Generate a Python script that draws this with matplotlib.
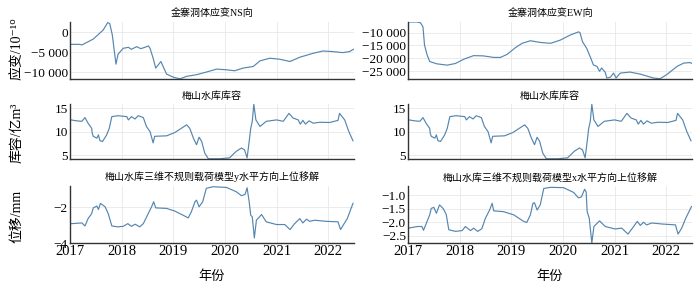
import numpy as np
import matplotlib
matplotlib.use('Agg')
import matplotlib.pyplot as plt
from matplotlib.ticker import FuncFormatter

plt.rcParams['font.family'] = ['Liberation Serif', 'Noto Sans CJK SC', 'DejaVu Sans']
plt.rcParams['axes.unicode_minus'] = True

# strain NS (10^-10)
ns_t = [2017.02, 2017.19, 2017.23, 2017.45, 2017.64, 2017.73, 2017.77, 2017.82, 2017.89, 2017.93,
        2018.03, 2018.13, 2018.19, 2018.29, 2018.37, 2018.45, 2018.52, 2018.55, 2018.61, 2018.66,
        2018.76, 2018.87, 2019.00, 2019.13, 2019.26, 2019.45, 2019.64, 2019.84, 2020.03, 2020.19,
        2020.35, 2020.55, 2020.68, 2020.87, 2021.06, 2021.26, 2021.45, 2021.71, 2021.90, 2022.09,
        2022.28, 2022.41, 2022.49]
ns_v = [-3000, -3000, -3150, -1670, 580, 2500, 2250, -670, -8000, -5500,
        -4000, -3750, -4250, -3580, -4080, -3750, -3400, -4000, -6500, -9000,
        -7330, -10500, -11300, -11700, -11080, -10660, -10000, -9250, -9420, -9670,
        -9000, -8580, -7160, -6500, -6750, -7330, -6250, -5250, -4670, -4830,
        -5080, -4830, -4250]

# strain EW (10^-10)
ew_t = [2017.01, 2017.17, 2017.24, 2017.29, 2017.32, 2017.37, 2017.42, 2017.56, 2017.76, 2017.92,
        2018.08, 2018.27, 2018.46, 2018.66, 2018.79, 2018.92, 2019.08, 2019.21, 2019.37, 2019.56,
        2019.76, 2019.95, 2020.14, 2020.30, 2020.33, 2020.38, 2020.46, 2020.54, 2020.59, 2020.66,
        2020.71, 2020.75, 2020.82, 2020.85, 2020.92, 2020.98, 2021.03, 2021.11, 2021.30, 2021.50,
        2021.75, 2021.88, 2022.01, 2022.21, 2022.34, 2022.46, 2022.50]
ew_v = [-5900, -5900, -6150, -7800, -14900, -18700, -21300, -22200, -22700, -22050,
        -20400, -19000, -19100, -19700, -19700, -18500, -15900, -14200, -13200, -13850,
        -14200, -12950, -11000, -9750, -10000, -13600, -16150, -20000, -22600, -23200,
        -25100, -23800, -25500, -27700, -27400, -25800, -27700, -25800, -25400, -26200,
        -27700, -28000, -26400, -23200, -21900, -21700, -22050]

# reservoir storage (1e8 m^3)
st_t = [2017.02, 2017.13, 2017.23, 2017.29, 2017.35, 2017.42, 2017.43, 2017.45, 2017.52, 2017.55,
        2017.58, 2017.63, 2017.71, 2017.76, 2017.81, 2017.93, 2018.10, 2018.13, 2018.19, 2018.26,
        2018.32, 2018.42, 2018.48, 2018.55, 2018.61, 2018.64, 2018.87, 2019.03, 2019.21, 2019.26,
        2019.32, 2019.39, 2019.45, 2019.50, 2019.55, 2019.61, 2019.68, 2019.90, 2020.09, 2020.22,
        2020.32, 2020.38, 2020.43, 2020.47, 2020.50, 2020.53, 2020.56, 2020.60, 2020.68, 2020.80,
        2021.00, 2021.13, 2021.24, 2021.32, 2021.42, 2021.46, 2021.51, 2021.56, 2021.63, 2021.71,
        2021.84, 2022.03, 2022.19, 2022.22, 2022.32, 2022.40, 2022.48]
st_v = [12.5, 12.3, 12.2, 13.0, 11.8, 10.7, 9.7, 9.0, 8.6, 9.3,
        8.05, 7.9, 9.3, 10.7, 13.2, 13.4, 13.2, 12.5, 13.2, 12.7,
        13.4, 13.0, 11.1, 10.0, 7.6, 9.0, 9.1, 9.8, 11.1, 11.45,
        10.7, 8.6, 7.2, 8.8, 7.9, 5.4, 4.2, 4.2, 4.4, 5.8,
        6.5, 6.1, 4.4, 7.9, 10.7, 12.2, 15.85, 12.5, 11.1, 12.2,
        12.5, 12.2, 13.9, 12.9, 12.5, 11.6, 12.4, 11.6, 12.3, 11.8,
        12.0, 11.95, 12.4, 13.9, 12.5, 10.0, 8.05]

# displacement, y direction (mm)
dy_t = [2017.03, 2017.23, 2017.29, 2017.35, 2017.42, 2017.45, 2017.52, 2017.55, 2017.59, 2017.68,
        2017.74, 2017.81, 2017.93, 2018.03, 2018.12, 2018.19, 2018.26, 2018.35, 2018.42, 2018.50,
        2018.58, 2018.62, 2018.66, 2018.87, 2019.03, 2019.19, 2019.29, 2019.35, 2019.42, 2019.45,
        2019.50, 2019.57, 2019.64, 2019.77, 2020.03, 2020.22, 2020.32, 2020.39, 2020.43, 2020.47,
        2020.50, 2020.53, 2020.57, 2020.61, 2020.71, 2020.80, 2021.00, 2021.16, 2021.26, 2021.35,
        2021.45, 2021.51, 2021.58, 2021.64, 2021.74, 2021.96, 2022.19, 2022.24, 2022.29, 2022.37,
        2022.48]
dy_v = [-2.92, -2.88, -3.05, -2.64, -2.36, -2.04, -1.94, -2.13, -1.79, -1.98,
        -2.36, -3.05, -3.10, -3.07, -2.92, -3.07, -2.95, -3.10, -2.92, -2.45,
        -1.98, -1.70, -2.04, -2.07, -2.22, -2.45, -2.60, -2.26, -1.70, -1.61,
        -1.98, -1.70, -0.95, -0.86, -0.90, -1.14, -1.36, -1.29, -0.92, -1.70,
        -2.45, -2.54, -3.72, -2.73, -2.41, -2.82, -2.97, -2.97, -3.25, -2.92,
        -2.64, -2.88, -2.67, -2.79, -2.73, -2.79, -2.82, -3.25, -3.01, -2.64,
        -1.79]

# displacement, x direction (mm)
dx_t = [2017.01, 2017.18, 2017.27, 2017.30, 2017.37, 2017.42, 2017.45, 2017.50, 2017.55, 2017.61,
        2017.68, 2017.74, 2017.79, 2017.92, 2018.05, 2018.11, 2018.21, 2018.27, 2018.35, 2018.43,
        2018.50, 2018.58, 2018.63, 2018.66, 2018.85, 2019.05, 2019.24, 2019.30, 2019.37, 2019.42,
        2019.45, 2019.50, 2019.56, 2019.63, 2019.76, 2020.01, 2020.21, 2020.30, 2020.36, 2020.42,
        2020.45, 2020.47, 2020.51, 2020.56, 2020.60, 2020.71, 2020.82, 2021.01, 2021.14, 2021.26,
        2021.37, 2021.44, 2021.50, 2021.56, 2021.62, 2021.72, 2021.94, 2022.18, 2022.23, 2022.30,
        2022.38, 2022.49]
dx_v = [-2.21, -2.15, -2.15, -2.29, -1.96, -1.72, -1.48, -1.44, -1.66, -1.35,
        -1.48, -1.70, -2.27, -2.33, -2.30, -2.15, -2.30, -2.21, -2.33, -2.23,
        -1.84, -1.54, -1.29, -1.57, -1.60, -1.72, -1.96, -2.00, -1.72, -1.29,
        -1.27, -1.54, -1.35, -0.74, -0.70, -0.71, -0.89, -1.09, -1.05, -0.77,
        -0.87, -1.60, -1.84, -2.76, -2.15, -1.94, -2.15, -2.24, -2.21, -2.43,
        -2.15, -1.96, -2.11, -1.99, -2.09, -2.02, -2.06, -2.09, -2.43, -2.21,
        -1.84, -1.41]

titles = ['金寨洞体应变NS向', '金寨洞体应变EW向',
          '梅山水库库容', '梅山水库库容',
          '梅山水库三维不规则载荷模型y水平方向上位移解',
          '梅山水库三维不规则载荷模型x水平方向上位移解']
ylabels = ['应变/10\u207b\u00b9\u2070', '库容/亿m\u00b3', '位移/mm']
series = [(ns_t, ns_v), (ew_t, ew_v), (st_t, st_v), (st_t, st_v), (dy_t, dy_v), (dx_t, dx_v)]
ylims = [(-11750, 2650), (-28100, -5900), (4.15, 15.9), (4.15, 15.9), (-4.0, -0.82), (-2.76, -0.65)]
yticks = [[-10000, -5000, 0], [-25000, -20000, -15000, -10000], [5, 10, 15], [5, 10, 15],
          [-4, -2], [-2.5, -2.0, -1.5, -1.0]]


def thousands(v, pos):
    s = '{:,.0f}'.format(abs(v)).replace(',', ' ')
    return ('\u2212' + s) if v < 0 else s


def onedec(v, pos):
    return ('\u2212' if v < 0 else '') + '{:.1f}'.format(abs(v))


def integer(v, pos):
    return ('\u2212' if v < 0 else '') + '{:.0f}'.format(abs(v))


fmts = [thousands, thousands, integer, integer, integer, onedec]

fig = plt.figure(figsize=(7, 2.88), dpi=100)
W, H = 700.0, 288.0
cols = [(70, 354), (408, 692)]
rows = [(22, 79), (104, 159), (186, 243)]
line_color = '#5586b0'

for i in range(6):
    r, c = divmod(i, 2)
    x0, x1 = cols[c]
    y0, y1 = rows[r]
    ax = fig.add_axes([x0 / W, 1 - y1 / H, (x1 - x0) / W, (y1 - y0) / H])
    t, v = series[i]
    ax.plot(t, v, color=line_color, lw=0.85)
    ax.set_xlim(2017, 2022.5)
    ax.set_ylim(*ylims[i])
    ax.set_xticks(range(2017, 2023))
    ax.set_yticks(yticks[i])
    ax.yaxis.set_major_formatter(FuncFormatter(fmts[i]))
    ax.grid(True, color='#e8e8e8', lw=0.6)
    ax.set_axisbelow(True)
    for s in ['top', 'right']:
        ax.spines[s].set_visible(False)
    for s in ['left', 'bottom']:
        ax.spines[s].set_color('#333333')
        ax.spines[s].set_linewidth(1.0)
    ax.tick_params(length=0, labelsize=9.5, pad=1.5)
    ax.tick_params(axis='x', labelsize=10.5)
    if r < 2:
        ax.tick_params(labelbottom=False)
    ax.set_title(titles[i], fontsize=7.2, pad=4)

ylab_y = [49, 133, 216]
for r in range(3):
    fig.text(17 / W, 1 - ylab_y[r] / H, ylabels[r], rotation=90, ha='center', va='center', fontsize=10)

for c in range(2):
    x0, x1 = cols[c]
    fig.text((x0 + x1) / 2 / W, 1 - 277 / H, '年份', ha='center', va='center', fontsize=9.5)

fig.savefig('out.png', dpi=100)
